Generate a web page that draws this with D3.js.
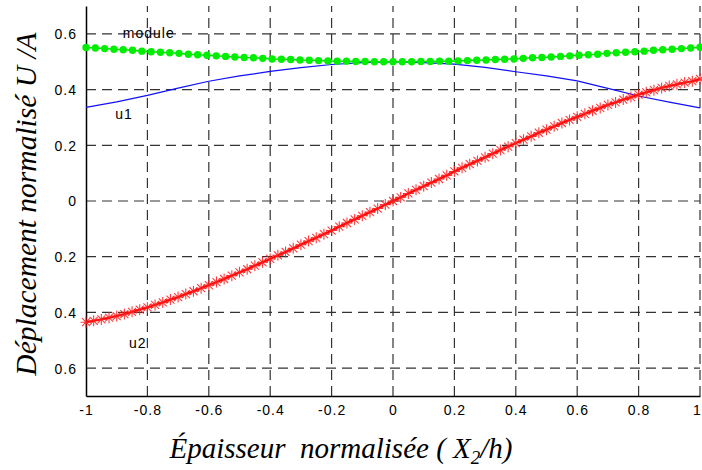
<!DOCTYPE html>
<html><head><meta charset="utf-8">
<script src="https://cdn.jsdelivr.net/npm/d3@7"></script>
<style>body{margin:0;background:#fff}svg{display:block}
.ttl{font-family:'Liberation Serif','Times New Roman','DejaVu Serif',serif;font-style:italic}</style>
</head><body>
<script>
// ---- data ----
const xTicks = [-1,-0.8,-0.6,-0.4,-0.2,0,0.2,0.4,0.6,0.8,1];
const xTickLabels = ["-1","-0.8","-0.6","-0.4","-0.2","0","0.2","0.4","0.6","0.8","1"];
const yTicks = [0.6,0.4,0.2,0,-0.2,-0.4,-0.6];
const yTickLabels = ["0.6","0.4","0.2","0","0.2","0.4","0.6"];

// u1 (blue line), x step 0.1
const u1X = [-1,-0.9,-0.8,-0.7,-0.6,-0.5,-0.4,-0.3,-0.2,-0.1,0,0.1,0.2,0.3,0.4,0.5,0.6,0.7,0.8,0.9,1];
const u1 = [0.336,0.356,0.379,0.405,0.430,0.449,0.465,0.479,0.490,0.497,0.500,0.497,0.491,0.480,0.464,0.449,0.431,0.404,0.377,0.355,0.334];

// module (green dots), 67 samples from -1 to 1
const moduleVals = [0.551,0.549,0.547,0.545,0.543,0.541,0.538,0.536,0.534,0.532,0.530,0.527,0.525,0.523,0.521,0.519,0.517,0.515,0.514,0.512,0.510,0.509,0.508,0.506,0.505,0.504,0.503,0.502,0.502,0.501,0.501,0.500,0.500,
0.500,0.500,0.500,0.501,0.501,0.502,0.502,0.503,0.504,0.505,0.506,0.508,0.509,0.510,0.512,0.514,0.515,0.517,0.519,0.521,0.523,0.525,0.527,0.530,0.532,0.534,0.536,0.538,0.541,0.543,0.545,0.547,0.549,0.552];

// u2 (red asterisks), 81 samples from -1 to 1
const u2 = [-0.435,-0.430,-0.425,-0.419,-0.413,-0.406,-0.398,-0.390,-0.382,-0.373,-0.364,-0.354,-0.345,-0.334,-0.324,-0.313,-0.302,-0.291,-0.280,-0.268,-0.256,-0.245,-0.232,-0.220,-0.208,-0.195,-0.183,-0.170,-0.157,-0.144,-0.132,-0.119,-0.106,-0.092,-0.079,-0.066,-0.053,-0.040,-0.027,-0.013,
0.000,
0.013,0.027,0.040,0.053,0.066,0.079,0.092,0.106,0.119,0.132,0.144,0.157,0.170,0.183,0.195,0.208,0.220,0.232,0.245,0.256,0.268,0.280,0.291,0.302,0.313,0.324,0.334,0.345,0.354,0.364,0.373,0.382,0.390,0.398,0.406,0.413,0.419,0.425,0.430,0.438];

const labels = [{t:"module",x:-0.88,y:0.585},{t:"u1",x:-0.905,y:0.294},{t:"u2",x:-0.86,y:-0.529}];

// ---- drawing ----
const W=702,H=470;
const svg=d3.select("body").append("svg").attr("width",W).attr("height",H);
const x=d3.scaleLinear().domain([-1,1]).range([86,700]);
const y=d3.scaleLinear().domain([-0.7,0.7]).range([396,6]);
const sans="Liberation Sans, Arial, sans-serif";

// grid
const g=svg.append("g");
g.selectAll("line.h").data(yTicks).join("line")
 .attr("x1",x(-1)).attr("x2",x(1)).attr("y1",d=>y(d)).attr("y2",d=>y(d))
 .attr("stroke","#333").attr("stroke-width",1.2).attr("stroke-dasharray","10,6");
g.selectAll("line.v").data(xTicks.slice(1)).join("line")
 .attr("x1",d=>x(d)).attr("x2",d=>x(d)).attr("y1",y(-0.7)).attr("y2",y(0.7))
 .attr("stroke","#333").attr("stroke-width",1.2).attr("stroke-dasharray","10,6");

// axes
const xAxis=d3.axisBottom(x).tickValues(xTicks).tickFormat((d,i)=>xTickLabels[i]).tickSize(0).tickPadding(9);
const ax=svg.append("g").attr("transform",`translate(0,${y(-0.7)})`).call(xAxis);
const yAxis=d3.axisLeft(y).tickValues(yTicks).tickFormat((d,i)=>yTickLabels[i]).tickSize(0).tickPadding(9);
const ay=svg.append("g").attr("transform",`translate(${x(-1)},0)`).call(yAxis);
[ax,ay].forEach(a=>{
  a.select(".domain").attr("stroke","#000").attr("stroke-width",1.5);
  a.selectAll("text").attr("font-family",sans).attr("font-size",14).attr("letter-spacing",1).attr("fill","#000");
});
ay.selectAll("text").attr("dy","0.35em");
ax.selectAll("text").filter((d,i)=>i===xTicks.length-1).attr("dx",-3);

// u1 blue line
svg.append("path").datum(u1X.map((v,i)=>[v,u1[i]]))
 .attr("d",d3.line().x(d=>x(d[0])).y(d=>y(d[1])))
 .attr("fill","none").attr("stroke","#1010ff").attr("stroke-width",1.2);

// module green
const mX=d3.scaleLinear().domain([0,moduleVals.length-1]).range([-1,1]);
const mData=moduleVals.map((v,i)=>[mX(i),v]);
svg.append("path").datum(mData).attr("d",d3.line().x(d=>x(d[0])).y(d=>y(d[1])))
 .attr("fill","none").attr("stroke","#00e000").attr("stroke-width",1.5);
svg.append("g").selectAll("circle").data(mData).join("circle")
 .attr("cx",d=>x(d[0])).attr("cy",d=>y(d[1])).attr("r",3.7).attr("fill","#00ee00");

// u2 red
const rX=d3.scaleLinear().domain([0,u2.length-1]).range([-1,1]);
const rData=u2.map((v,i)=>[rX(i),v]);
svg.append("path").datum(rData).attr("d",d3.line().x(d=>x(d[0])).y(d=>y(d[1])))
 .attr("fill","none").attr("stroke","#ff0000").attr("stroke-width",2);
const s=5.5, s2=4;
svg.append("g").selectAll("path").data(rData).join("path")
 .attr("d",d=>{const cx=x(d[0]),cy=y(d[1]);
   return `M${cx-s},${cy}L${cx+s},${cy}M${cx},${cy-s}L${cx},${cy+s}M${cx-s2},${cy-s2}L${cx+s2},${cy+s2}M${cx-s2},${cy+s2}L${cx+s2},${cy-s2}`;})
 .attr("stroke","#ff1a1a").attr("stroke-width",1.1).attr("fill","none").attr("opacity",0.85);

// curve labels
svg.append("g").selectAll("text").data(labels).join("text")
 .attr("x",d=>x(d.x)).attr("y",d=>y(d.y)).text(d=>d.t)
 .attr("font-family",sans).attr("font-size",14).attr("letter-spacing",1).attr("fill","#000");

// axis titles
const xt=svg.append("text").attr("class","ttl").attr("x",341).attr("y",458).attr("text-anchor","middle")
 .attr("font-size",29).style("white-space","pre");
xt.append("tspan").text("Épaisseur  normalisée ( X");
xt.append("tspan").text("2").attr("font-size",19).attr("dy",6);
xt.append("tspan").text("/h)").attr("dy",-6);

svg.append("text").attr("class","ttl").attr("transform","translate(36,204) rotate(-90)").attr("text-anchor","middle")
 .attr("font-size",29.5)
 .text("Déplacement normalisé U /A");
</script>
</body></html>
